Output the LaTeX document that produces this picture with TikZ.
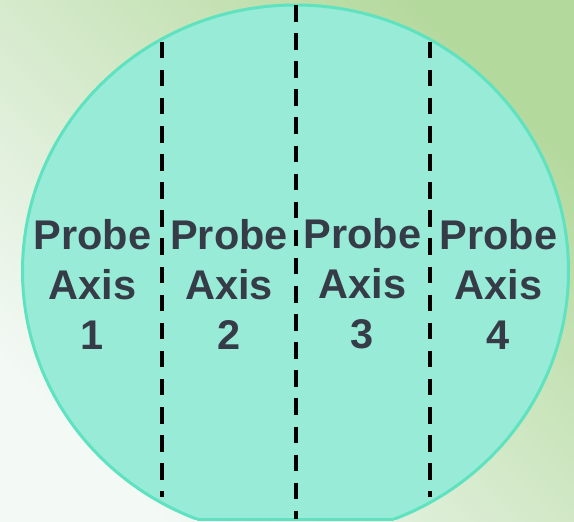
\documentclass[tikz,border=0pt]{standalone}
\usepackage{fontspec}
\setmainfont{Liberation Sans}
\definecolor{bgGreen}{RGB}{180,217,157}
\definecolor{bgMid}{RGB}{216,232,206}
\definecolor{bgLight}{RGB}{243,249,245}
\definecolor{discFill}{RGB}{151,235,215}
\definecolor{discRim}{RGB}{94,226,192}
\definecolor{labelInk}{RGB}{54,59,72}
\tikzset{
  divider/.style={black, line width=3.8pt, dash pattern=on 16.5pt off 11.6pt},
  axislabel/.style={inner sep=0pt, align=center, text=labelInk,
    font=\bfseries\fontsize{41.5}{50}\selectfont},
}
\begin{document}
\begin{tikzpicture}[x=1pt, y=-1pt]
  \useasboundingbox (0,0) rectangle (574,522);
  % backdrop
  \shade[top color=bgGreen, middle color=bgMid, bottom color=bgLight, shading angle=-45]
    (0,0) rectangle (574,522);
  % wafer disc, cut flat at the bottom
  \begin{scope}
    \clip (0,0) rectangle (574,519);
    \fill[discFill] (295.5,271) ellipse [x radius=273, y radius=266];
    \draw[discRim, line width=3pt] (295.5,271) ellipse [x radius=273, y radius=266];
  \end{scope}
  \coordinate (flatL) at (196.7,519);
  \coordinate (flatR) at (394.3,519);
  \draw[discRim, line width=3pt] (flatL) -- (flatR);
  % dividers between the probe axes
  \coordinate (d1top) at (162,41.7);  \coordinate (d1bot) at (162,497);
  \coordinate (d2top) at (296,5);     \coordinate (d2bot) at (296,519);
  \coordinate (d3top) at (430,41.7);  \coordinate (d3bot) at (430,497);
  \draw[divider] (d1top) -- (d1bot);
  \draw[divider] (d2top) -- (d2bot);
  \draw[divider] (d3top) -- (d3bot);
  % axis labels
  \node[axislabel] (ax1) at (92.5,284) {Probe\\Axis\\1};
  \node[axislabel] (ax2) at (229,284) {Probe\\Axis\\2};
  \node[axislabel] (ax3) at (362.5,284) {Probe\\Axis\\3};
  \node[axislabel] (ax4) at (498.5,284) {Probe\\Axis\\4};
\end{tikzpicture}
\end{document}
